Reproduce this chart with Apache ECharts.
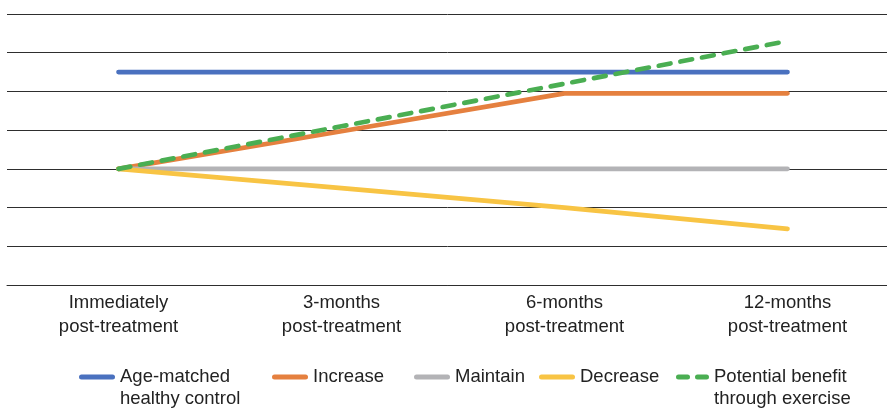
<!DOCTYPE html>
<html>
<head>
<meta charset="utf-8">
<script src="https://cdn.jsdelivr.net/npm/echarts@6/dist/echarts.min.js"></script>
<style>html,body{margin:0;padding:0;background:#fff}#c{width:887px;height:408px}</style>
</head>
<body>
<div id="c"></div>
<script>
var categories = ['Immediately\npost-treatment', '3-months\npost-treatment', '6-months\npost-treatment', '12-months\npost-treatment'];
var seriesNames = ['Age-matched\nhealthy control', 'Increase', 'Maintain', 'Decrease', 'Potential benefit\nthrough exercise'];
var healthyControl = [5.5, 5.5, 5.5, 5.5];
var increase = [3, 3.97, 4.95, 4.95];
var maintain = [3, 3, 3, 3];
var decrease = [3, 2.5, 2.0, 1.45];
var exerciseBenefit = [3, 4.1, 5.2, 6.3];
var yTicks = [0, 1, 2, 3, 4, 5, 6, 7];

var colors = ['#4a71bf', '#e5803f', '#b3b3b6', '#f8c444', '#4aae52'];
var dataSets = [healthyControl, increase, maintain, decrease, exerciseBenefit];
var legendLefts = [79, 272, 414, 539, 676];
var font = '"Liberation Sans", Arial, Helvetica, sans-serif';

var solidIcon = 'path://M2.5,0 L33.5,0 A2.5,2.5 0 0 1 33.5,5 L2.5,5 A2.5,2.5 0 0 1 2.5,0 Z';
var dashIcon = 'path://M2.5,0 L11.5,0 A2.5,2.5 0 0 1 11.5,5 L2.5,5 A2.5,2.5 0 0 1 2.5,0 Z M21.5,0 L30.5,0 A2.5,2.5 0 0 1 30.5,5 L21.5,5 A2.5,2.5 0 0 1 21.5,0 Z';

var series = seriesNames.map(function (n, i) {
  return {
    name: n,
    type: 'line',
    data: dataSets[i],
    symbol: 'none',
    showSymbol: false,
    z: 2 + i,
    lineStyle: {
      color: colors[i],
      width: 4.7,
      cap: 'round',
      join: 'round',
      type: i === 4 ? [12, 10] : 'solid'
    },
    itemStyle: { color: colors[i] }
  };
});

var legends = seriesNames.map(function (n, i) {
  var multi = n.indexOf('\n') >= 0;
  return {
    data: [n],
    left: legendLefts[i],
    top: multi ? 344 : 366,
    padding: 0,
    itemWidth: i === 4 ? 33 : 36,
    itemHeight: 5,
    icon: i === 4 ? dashIcon : solidIcon,
    formatter: function (name) { return name.indexOf('\n') >= 0 ? '\n' + name : name; },
    textStyle: { fontFamily: font, fontSize: 18.5, color: '#222', lineHeight: 22 }
  };
});

var chart = echarts.init(document.getElementById('c'), null, { renderer: 'canvas' });
chart.setOption({
  animation: false,
  backgroundColor: '#fff',
  grid: { left: 7, right: -12, top: 14, bottom: 123, containLabel: false, outerBoundsMode: 'none' },
  xAxis: {
    type: 'category',
    data: categories,
    boundaryGap: true,
    axisLine: { show: true, lineStyle: { color: '#2e2e2e', width: 1 } },
    axisTick: { show: false },
    axisLabel: { fontFamily: font, fontSize: 18.5, color: '#222', lineHeight: 24, margin: 6, interval: 0 },
    splitLine: { show: false }
  },
  yAxis: {
    type: 'value',
    min: yTicks[0],
    max: yTicks[yTicks.length - 1],
    interval: 1,
    axisLabel: { show: false },
    axisLine: { show: false },
    axisTick: { show: false },
    splitLine: { show: true, lineStyle: { color: '#2e2e2e', width: 1 } }
  },
  legend: legends,
  series: series
});
</script>
</body>
</html>
